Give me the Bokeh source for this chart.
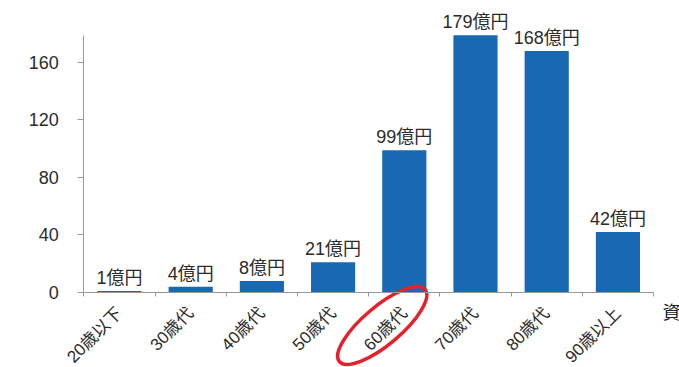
import math
from bokeh.plotting import figure
from bokeh.models import Range1d, FixedTicker, LinearAxis, ColumnDataSource, Label
from bokeh.embed import file_html
from bokeh.resources import INLINE
from bokeh.core.properties import value

# ---- data ----
categories = ["20歳以下", "30歳代", "40歳代", "50歳代", "60歳代", "70歳代", "80歳代", "90歳以上"]
amounts = [1, 4, 8, 21, 99, 179, 168, 42]
value_labels = ["1億円", "4億円", "8億円", "21億円", "99億円", "179億円", "168億円", "42億円"]
y_ticks = [0, 40, 80, 120, 160]
highlight = "60歳代"
note_text = "資"

FONT = value("Liberation Sans, Noto Sans CJK JP")
FONT_S = "Liberation Sans, Noto Sans CJK JP"
BAR = "#1868b4"
TXT = "#2b2b2b"

idx = list(range(len(categories)))
src = ColumnDataSource(dict(x=idx, top=amounts, lab=value_labels))

p = figure(width=679, height=367, output_backend="svg", toolbar_location=None,
           x_range=Range1d(-1.671, 7.865), y_range=Range1d(-52.2, 203.1),
           x_axis_location=None, y_axis_location=None, min_border=0)
p.outline_line_color = None
p.background_fill_color = "white"
p.border_fill_color = "white"
p.grid.grid_line_color = None

p.vbar(x="x", top="top", bottom=0, width=0.62, source=src,
       fill_color=BAR, line_color=None)

p.text(x="x", y="top", text="lab", source=src, text_align="center",
       text_baseline="bottom", y_offset=-3, text_font=FONT,
       text_font_size="18px", text_color=TXT)

# y axis
yax = LinearAxis(fixed_location=-0.5, bounds=(0, 179),
                 ticker=FixedTicker(ticks=y_ticks))
yax.axis_line_color = "#9a9a9a"
yax.major_tick_line_color = "#9a9a9a"
yax.major_tick_out = 6
yax.major_tick_in = 0
yax.minor_tick_out = 0
yax.minor_tick_in = 0
yax.major_label_standoff = 19
yax.major_label_text_font = FONT_S
yax.major_label_text_font_size = "18px"
yax.major_label_text_color = TXT
p.add_layout(yax, "left")

# x axis
xax = LinearAxis(fixed_location=0, bounds=(-0.5, len(categories) - 0.5),
                 ticker=FixedTicker(ticks=idx,
                                    minor_ticks=[i - 0.5 for i in range(len(categories) + 1)]))
xax.major_label_overrides = {i: c for i, c in enumerate(categories)}
xax.major_label_orientation = math.pi / 4
xax.axis_line_color = "#9a9a9a"
xax.major_tick_line_color = None
xax.major_tick_out = 0
xax.major_tick_in = 0
xax.minor_tick_line_color = "#9a9a9a"
xax.minor_tick_out = 4
xax.minor_tick_in = 0
xax.major_label_standoff = 14
xax.major_label_text_font = FONT_S
xax.major_label_text_font_size = "17px"
xax.major_label_text_color = TXT
p.add_layout(xax, "below")

# red ellipse highlighting the 60歳代 label
hx = categories.index(highlight) - 0.31
p.ellipse(x=[hx], y=[-23], width=112, height=38, width_units="screen",
          height_units="screen", angle=0.70, fill_color=None,
          line_color="#e3222b", line_width=3.5)

# cropped source note at right edge
p.add_layout(Label(x=len(categories) - 0.374, y=-14, text=note_text,
                   text_baseline="middle", text_font=FONT_S,
                   text_font_size="18px", text_color="#222222"))

open("out.html", "w").write(file_html(p, INLINE))
